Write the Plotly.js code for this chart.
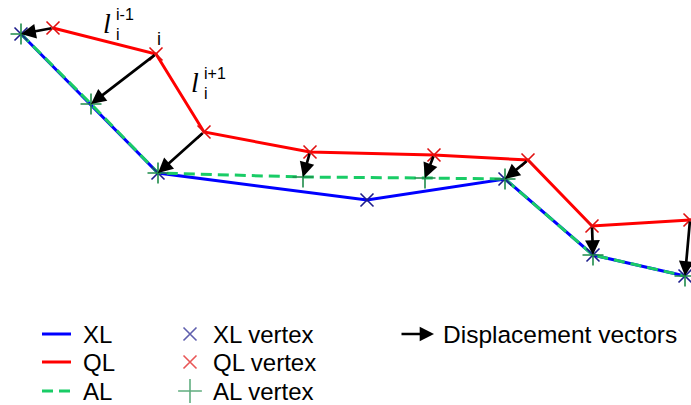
<!DOCTYPE html>
<html>
<head>
<meta charset="utf-8">
<script src="https://cdn.plot.ly/plotly-3.0.1.min.js"></script>
<style>html,body{margin:0;padding:0;background:#fff;}#chart{width:691px;height:405px;}</style>
</head>
<body>
<div id="chart"></div>
<script>
// Vertex positions (x to the right, y downwards)
const xlX = [21, 158, 367, 505, 593, 685];
const xlY = [34, 173, 200, 179, 255, 276];
const qlX = [53, 156, 204, 310, 434, 528, 592, 690];
const qlY = [28, 54, 132, 152, 155, 160, 226, 220];
const alX = [21, 91, 158, 303, 425, 505, 593, 685];
const alY = [34, 104, 173, 177, 178, 179, 255, 276];
const seriesNames = ['XL', 'QL', 'AL'];
const vertexNames = ['XL vertex', 'QL vertex', 'AL vertex'];
const arrowName = 'Displacement vectors';

const BLUE = '#0000ff', RED = '#ff0000', GREEN = '#19cc66';
const NAVY = '#1c1c8c', DRED = '#e01010', DGREEN = '#1e8c4a';
const FONT = 'Liberation Sans, Arial, sans-serif';

const traces = [
  {x: xlX, y: xlY, mode: 'lines', line: {color: BLUE, width: 3}, showlegend: false, hoverinfo: 'skip'},
  {x: alX, y: alY, mode: 'lines', line: {color: GREEN, width: 3, dash: '11px,6px'}, showlegend: false, hoverinfo: 'skip'},
  {x: qlX, y: qlY, mode: 'lines', line: {color: RED, width: 3}, showlegend: false, hoverinfo: 'skip'},
  {x: xlX, y: xlY, mode: 'markers', marker: {symbol: 'x-thin', size: 13, line: {color: NAVY, width: 1.6}}, showlegend: false, hoverinfo: 'skip'},
  {x: alX, y: alY, mode: 'markers', marker: {symbol: 'cross-thin', size: 15, line: {color: DGREEN, width: 1.6}}, showlegend: false, hoverinfo: 'skip'},
  {x: qlX, y: qlY, mode: 'markers', marker: {symbol: 'x-thin', size: 13, line: {color: DRED, width: 1.6}}, showlegend: false, hoverinfo: 'skip'}
];

// Displacement vectors: from each QL vertex to the matching AL vertex
const annotations = [];
for (let k = 0; k < qlX.length; k++) {
  annotations.push({
    x: alX[k], y: alY[k], ax: qlX[k], ay: qlY[k],
    xref: 'x', yref: 'y', axref: 'x', ayref: 'y',
    showarrow: true, arrowhead: 2, arrowsize: 1.1, arrowwidth: 2.7,
    arrowcolor: '#000', standoff: 0, text: ''
  });
}

// Math-like labels
const lab = (text, x, y, size, fam, xa, ya) => ({
  text, x, y, xref: 'x', yref: 'y', showarrow: false,
  xanchor: xa || 'left', yanchor: ya || 'middle', borderpad: 0,
  font: {family: fam || FONT, size: size, color: '#000'}
});
annotations.push(lab('<i>l</i>', 102, 23, 28, 'Liberation Serif, Times New Roman, serif'));
annotations.push(lab('i-1', 115, 14, 16));
annotations.push(lab('i', 115, 34, 16));
annotations.push(lab('i', 156, 39, 18));
annotations.push(lab('<i>l</i>', 190, 82, 28, 'Liberation Serif, Times New Roman, serif'));
annotations.push(lab('i+1', 203, 73, 16));
annotations.push(lab('i', 203, 93, 16));

// Legend (manual, three columns)
const rowY = [334, 362, 391];
const shapes = [];
const lineStyles = [
  {color: BLUE, width: 3, dash: 'solid'},
  {color: RED, width: 3, dash: 'solid'},
  {color: GREEN, width: 3, dash: '11px,6px'}
];
seriesNames.forEach((n, i) => {
  shapes.push({type: 'line', xref: 'x', yref: 'y', x0: 42, x1: 71, y0: rowY[i], y1: rowY[i], line: lineStyles[i]});
  annotations.push(lab(n, 82, rowY[i], 24));
});
vertexNames.forEach((n, i) => {
  annotations.push(lab(n, 212, rowY[i], 24));
});
annotations.push({
  x: 434, y: rowY[0], ax: 400, ay: rowY[0], xref: 'x', yref: 'y', axref: 'x', ayref: 'y',
  showarrow: true, arrowhead: 2, arrowsize: 1.1, arrowwidth: 2.6, arrowcolor: '#000', standoff: 0, text: ''
});
annotations.push(lab(arrowName, 442, rowY[0], 24.5));

traces.push({
  x: [190, 190, 190], y: rowY, mode: 'markers', showlegend: false, hoverinfo: 'skip',
  marker: {symbol: ['x-thin', 'x-thin', 'cross-thin'], size: [13, 13, 17],
           line: {color: [NAVY, DRED, DGREEN], width: 1.6}}
});

const layout = {
  width: 691, height: 405,
  margin: {l: 0, r: 0, t: 0, b: 0, pad: 0},
  paper_bgcolor: '#fff', plot_bgcolor: '#fff',
  xaxis: {range: [0, 691], visible: false, fixedrange: true},
  yaxis: {range: [405, 0], visible: false, fixedrange: true},
  showlegend: false,
  annotations, shapes
};

Plotly.newPlot('chart', traces, layout, {displayModeBar: false, staticPlot: true});
</script>
</body>
</html>
